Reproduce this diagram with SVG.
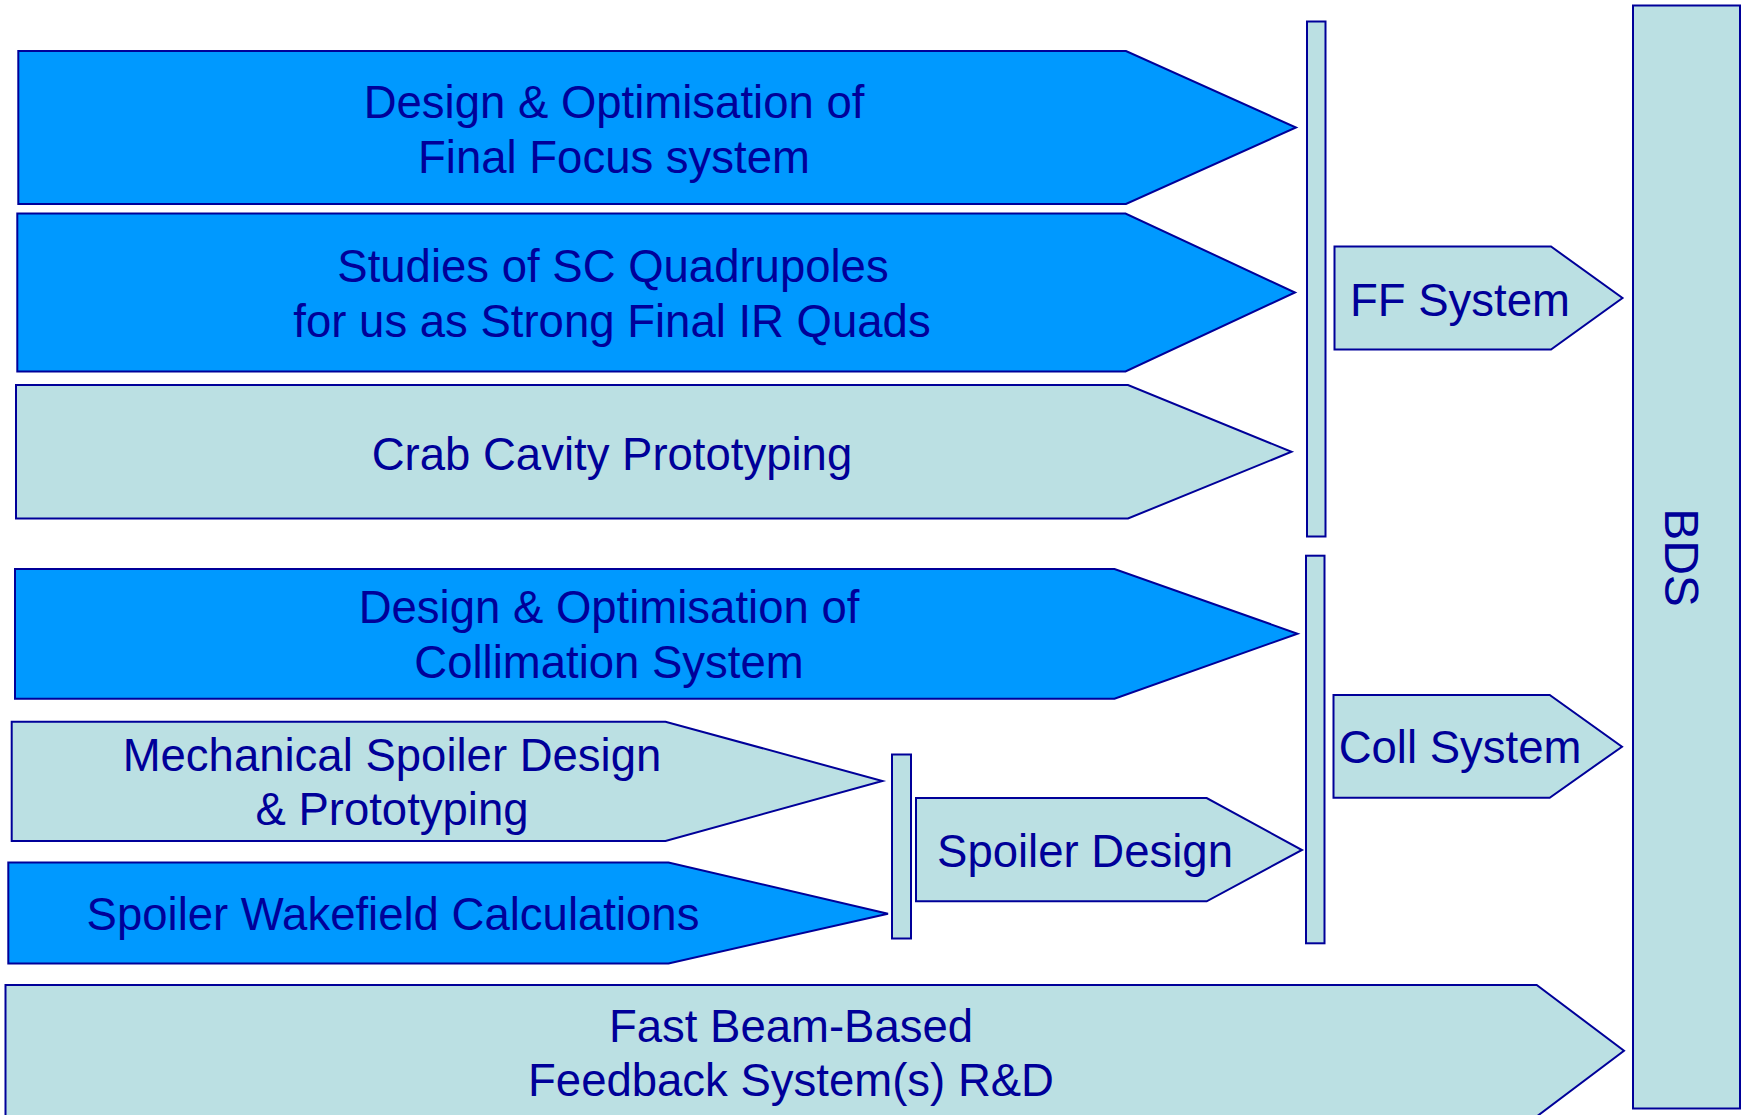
<svg xmlns="http://www.w3.org/2000/svg" width="1742" height="1115" viewBox="0 0 1742 1115">
  <style>
    .task { stroke: #000099; stroke-width: 2; stroke-linejoin: miter; }
    .core { fill: #0099FF; }
    .pale { fill: #BBE0E3; }
    .bar  { fill: #BBE0E3; stroke: #000099; stroke-width: 2; }
    text  { font-family: "Liberation Sans", Arial, sans-serif; font-size: 45.5px; fill: #000099; text-anchor: middle; }
    .big  { font-size: 48px; }
  </style>
  <rect width="1742" height="1115" fill="#FFFFFF"/>

  <!-- BDS column -->
  <g id="bds">
    <rect class="bar" x="1633" y="5.5" width="107" height="1103"/>
    <text class="big" transform="translate(1665 557.5) rotate(90)">BDS</text>
  </g>

  <!-- merge bars that gather the work packages -->
  <g id="connectors">
    <rect id="ff-merge" class="bar" x="1307" y="21.5" width="18.5" height="515"/>
    <rect id="coll-merge" class="bar" x="1306" y="555.7" width="18.5" height="387.6"/>
    <rect id="spoiler-merge" class="bar" x="892" y="754.5" width="19" height="184"/>
  </g>

  <!-- Final focus work packages -->
  <g id="ff-design">
    <polygon class="task core" points="18.3,51 1126,51 1296,127.5 1126,204 18.3,204"/>
    <text x="614" y="118.3">Design &amp; Optimisation of</text>
    <text x="614" y="173.3">Final Focus system</text>
  </g>
  <g id="sc-quads">
    <polygon class="task core" points="17.3,213.5 1125.5,213.5 1295,292.5 1125.5,371.5 17.3,371.5"/>
    <text x="613" y="282">Studies of SC Quadrupoles</text>
    <text x="612" y="336.7">for us as Strong Final IR Quads</text>
  </g>
  <g id="crab-cavity">
    <polygon class="task pale" points="16,385 1128,385 1291.5,451.8 1128,518.5 16,518.5"/>
    <text x="612" y="470">Crab Cavity Prototyping</text>
  </g>
  <g id="ff-system">
    <polygon class="task pale" points="1334.5,246.5 1551,246.5 1622.5,298 1551,349.6 1334.5,349.6"/>
    <text x="1460" y="316">FF System</text>
  </g>

  <!-- Collimation work packages -->
  <g id="coll-design">
    <polygon class="task core" points="15,569 1114.5,569 1297.5,633.7 1114.5,698.7 15,698.7"/>
    <text x="609" y="623">Design &amp; Optimisation of</text>
    <text x="609" y="678">Collimation System</text>
  </g>
  <g id="mech-spoiler">
    <polygon class="task pale" points="11.7,721.7 665.5,721.7 882.4,781 665.5,841 11.7,841"/>
    <text x="392" y="770.7">Mechanical Spoiler Design</text>
    <text x="392" y="825">&amp; Prototyping</text>
  </g>
  <g id="wakefield">
    <polygon class="task core" points="8.3,862.5 668.5,862.5 888,913.7 668.5,963.5 8.3,963.5"/>
    <text x="393" y="930">Spoiler Wakefield Calculations</text>
  </g>
  <g id="spoiler-design">
    <polygon class="task pale" points="916,798 1206.7,798 1302,850 1206.7,901.3 916,901.3"/>
    <text x="1085" y="866.7">Spoiler Design</text>
  </g>
  <g id="coll-system">
    <polygon class="task pale" points="1333.5,695 1549.7,695 1622,746.7 1549.7,797.7 1333.5,797.7"/>
    <text x="1460" y="762.7">Coll System</text>
  </g>

  <!-- Feedback -->
  <g id="feedback">
    <polygon class="task pale" points="5.5,985 1536.7,985 1624,1050.7 1536.7,1116.5 5.5,1116.5"/>
    <text x="791" y="1041.7">Fast Beam-Based</text>
    <text x="791" y="1096">Feedback System(s) R&amp;D</text>
  </g>
</svg>
